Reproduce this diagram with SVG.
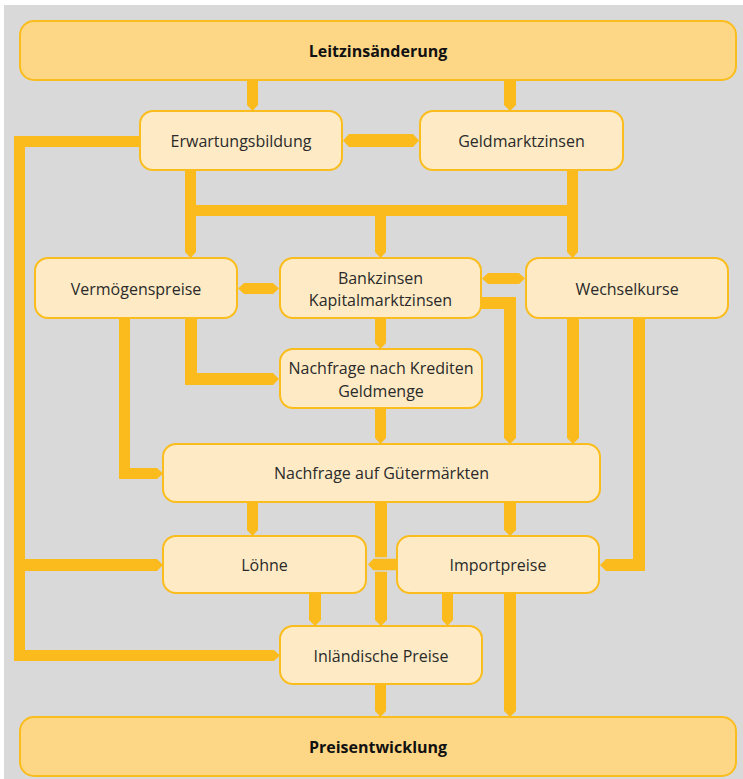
<svg xmlns="http://www.w3.org/2000/svg" width="743" height="779" viewBox="0 0 743 779">
<style>
.bg{fill:#d9d9d9}
.n{fill:#feeac5;stroke:#fbbd1e;stroke-width:2}
.m{fill:#fdd785;stroke:#fbbd1e;stroke-width:2}
.c{fill:#fbbb1c}
.co{fill:#fbbb1c;stroke:#d9d9d9;stroke-width:1.5}
text{font-family:"Open Sans","Liberation Sans",sans-serif;font-size:16px;fill:#2a2a2a;text-anchor:middle;dominant-baseline:central}
.b{font-weight:bold;font-size:16px;fill:#111}
</style>
<rect class="bg" x="4" y="5" width="739" height="774"/>
<g id="connectors">
<polygon class="c" points="247,80 258,80 258,105 252.5,111 247,105"/>
<polygon class="c" points="504,80 516,80 516,105 510,111 504,105"/>
<polygon class="c" points="343,140.5 349,134 413,134 419,140.5 413,147 349,147"/>
<polygon class="c" points="140,136 14,136 14,661 274,661 280,655.5 274,650 25,650 25,571 157,571 163,565 157,559 25,559 25,147 140,147"/>
<polygon class="c" points="185,170 196,170 196,252 190.5,258 185,252"/>
<polygon class="c" points="567,170 578,170 578,252 572.5,258 567,252"/>
<rect class="c" x="185" y="205" width="393" height="11"/>
<polygon class="c" points="375,216 386,216 386,252 380.5,258 375,252"/>
<polygon class="c" points="238,288.5 244,283 273,283 279,288.5 273,294 244,294"/>
<polygon class="c" points="482,278.5 488,273 519,273 525,278.5 519,284 488,284"/>
<polygon class="c" points="481,297 516,297 516,438 510,444 504,438 504,309 481,309"/>
<polygon class="c" points="375,318 386,318 386,343 380.5,349 375,343"/>
<polygon class="c" points="375,408 386,408 386,438 380.5,444 375,438"/>
<polygon class="c" points="119,318 130,318 130,468 157,468 163,473.5 157,479 119,479"/>
<polygon class="c" points="185,318 197,318 197,373 273,373 279,379 273,385 185,385"/>
<polygon class="c" points="567,318 579,318 579,438 573,444 567,438"/>
<polygon class="c" points="633,318 645,318 645,571 606,571 600,565 606,559 633,559"/>
<polygon class="c" points="247,502 258,502 258,530 252.5,536 247,530"/>
<polygon class="c" points="504,502 516,502 516,530 510,536 504,530"/>
<polygon class="c" points="375,502 387,502 387,620 381,626 375,620"/>
<polygon class="co" points="397,558 373,558 367,564.5 373,571 397,571"/>
<polygon class="c" points="309,593 321,593 321,620 315,626 309,620"/>
<polygon class="c" points="442,593 453,593 453,620 447.5,626 442,620"/>
<polygon class="c" points="504,593 516,593 516,711 510,717 504,711"/>
<polygon class="c" points="375,684 386,684 386,711 380.5,717 375,711"/>
</g>
<g id="leitzins"><rect class="m" x="20" y="21" width="716" height="59" rx="14"/><text class="b" x="378" y="51">Leitzinsänderung</text></g>
<g id="erwartung"><rect class="n" x="140" y="111" width="202" height="59" rx="13"/><text x="241" y="141">Erwartungsbildung</text></g>
<g id="geldmarkt"><rect class="n" x="420" y="111" width="203" height="59" rx="13"/><text x="521.5" y="141">Geldmarktzinsen</text></g>
<g id="vermoegen"><rect class="n" x="35" y="258" width="202" height="60" rx="13"/><text x="136" y="289">Vermögenspreise</text></g>
<g id="bankzinsen"><rect class="n" x="280" y="258" width="201" height="60" rx="13"/><text x="380.5" y="278">Bankzinsen</text><text x="380.5" y="300">Kapitalmarktzinsen</text></g>
<g id="wechsel"><rect class="n" x="526" y="258" width="202" height="60" rx="13"/><text x="627" y="289">Wechselkurse</text></g>
<g id="kredite"><rect class="n" x="280" y="349" width="202" height="59" rx="13"/><text x="381" y="368">Nachfrage nach Krediten</text><text x="381" y="391">Geldmenge</text></g>
<g id="gueter"><rect class="n" x="163" y="444" width="437" height="58" rx="13"/><text x="381.5" y="473">Nachfrage auf Gütermärkten</text></g>
<g id="loehne"><rect class="n" x="163" y="536" width="203" height="57" rx="13"/><text x="264.5" y="565">Löhne</text></g>
<g id="import"><rect class="n" x="397" y="536" width="202" height="57" rx="13"/><text x="498" y="565">Importpreise</text></g>
<g id="inland"><rect class="n" x="280" y="626" width="202" height="58" rx="13"/><text x="381" y="656">Inländische Preise</text></g>
<g id="preis"><rect class="m" x="20" y="717" width="716" height="59" rx="14"/><text class="b" x="378" y="747">Preisentwicklung</text></g>
</svg>
